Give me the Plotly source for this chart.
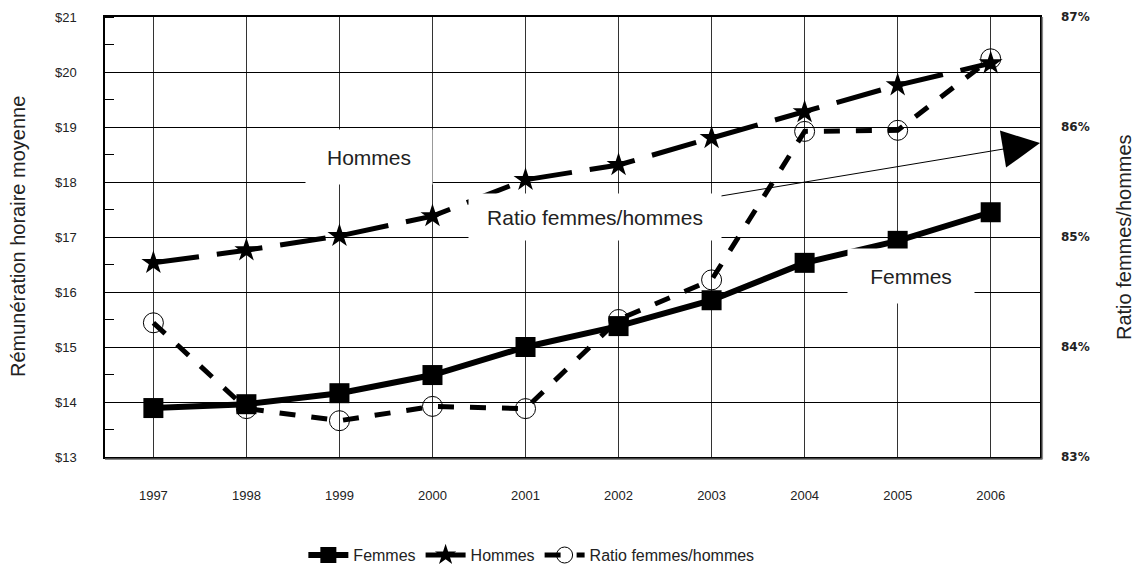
import plotly.graph_objects as go

years = [1997, 1998, 1999, 2000, 2001, 2002, 2003, 2004, 2005, 2006]
femmes = [13.89, 13.96, 14.16, 14.49, 15.00, 15.38, 15.85, 16.53, 16.93, 17.45]
hommes = [16.53, 16.76, 17.02, 17.38, 18.04, 18.31, 18.80, 19.27, 19.76, 20.16]
ratio = [84.22, 83.44, 83.33, 83.46, 83.44, 84.25, 84.61, 85.96, 85.97, 86.62]

left_ticks = [13, 14, 15, 16, 17, 18, 19, 20, 21]
right_ticks = [83, 84, 85, 86, 87]

FONT = "Liberation Sans, Arial, sans-serif"
TXT = "#222"

fig = go.Figure()
fig.add_trace(go.Scatter(
    x=years, y=femmes, name="Femmes", mode="lines+markers",
    line=dict(color="black", width=6),
    marker=dict(symbol="square", size=20, color="black"),
))
fig.add_trace(go.Scatter(
    x=years, y=hommes, name="Hommes", mode="lines+markers",
    line=dict(color="black", width=5, dash="46px,18px"),
    marker=dict(symbol="star", size=18, color="black"),
))
fig.add_trace(go.Scatter(
    x=years, y=ratio, name="Ratio femmes/hommes", mode="lines+markers", yaxis="y2",
    line=dict(color="black", width=5, dash="16px,16px"),
    marker=dict(symbol="circle", size=20, color="rgba(0,0,0,0)",
                line=dict(color="black", width=1)),
))

# figure is placed with the page's 8px body margin; plot area spans page x 105-1040, y 17-457
fig.update_layout(
    width=1129, height=560,
    margin=dict(l=97, r=97, t=9, b=111, autoexpand=False),
    paper_bgcolor="white", plot_bgcolor="white",
    font=dict(family=FONT, color=TXT),
    showlegend=True,
    legend=dict(orientation="h", x=0.456, xanchor="center", y=-0.223, yanchor="middle",
                font=dict(family=FONT, size=16, color=TXT), itemwidth=40,
                bgcolor="rgba(0,0,0,0)"),
    xaxis=dict(
        range=[1996.48, 2006.53], tickvals=years, ticktext=[str(y) for y in years],
        showgrid=True, gridcolor="#333", gridwidth=1, zeroline=False,
        showline=True, linecolor="black", linewidth=1.5, mirror=True,
        ticks="", ticklabelstandoff=26,
        tickfont=dict(family=FONT, size=13, color=TXT),
    ),
    yaxis=dict(
        range=[13, 21], tickvals=left_ticks, ticktext=["$" + str(v) for v in left_ticks],
        showgrid=True, gridcolor="black", gridwidth=1, zeroline=False,
        showline=True, linecolor="black", linewidth=1.5, mirror=True,
        ticks="", ticklabelstandoff=24,
        tickfont=dict(family=FONT, size=13, color=TXT),
        minor=dict(ticks="inside", ticklen=9, tickcolor="black", dtick=0.5, showgrid=False),
    ),
    yaxis2=dict(
        range=[83, 87], tickvals=right_ticks, ticktext=[str(v) + "%" for v in right_ticks],
        overlaying="y", side="right", showgrid=False, zeroline=False,
        ticks="", ticklabelstandoff=20,
        tickfont=dict(family="DejaVu Sans", size=12, color=TXT, weight="bold"),
    ),
)

# secondary frame (shadow) at right and bottom
fig.add_shape(type="line", xref="paper", yref="paper", x0=1.0025, x1=1.0025, y0=-0.005, y1=1,
              line=dict(color="#888", width=1.5))
fig.add_shape(type="line", xref="paper", yref="paper", x0=0, x1=1.0025, y0=-0.005, y1=-0.005,
              line=dict(color="#888", width=1.5))

# axis titles
fig.add_annotation(text="Rémunération horaire moyenne", xref="paper", yref="paper",
                   x=0, y=0.5, xanchor="center", xshift=-87, textangle=-90, showarrow=False,
                   font=dict(family=FONT, size=20, color=TXT))
fig.add_annotation(text="Ratio femmes/hommes", xref="paper", yref="paper",
                   x=1, y=0.5, xanchor="center", xshift=84, textangle=-90, showarrow=False,
                   font=dict(family=FONT, size=20, color=TXT))

# series labels in white boxes
fig.add_annotation(text="Hommes", x=1999.32, y=18.45, showarrow=False,
                   bgcolor="white", width=106, height=34, borderpad=10,
                   font=dict(family=FONT, size=21, color=TXT))
fig.add_annotation(text="Femmes", x=2005.14, y=16.29, showarrow=False,
                   bgcolor="white", width=106, height=34, borderpad=10,
                   font=dict(family=FONT, size=21, color=TXT))
fig.add_annotation(text="Ratio femmes/hommes", xref="paper", x=1, y=18.71,
                   ax=-445, ay=74, showarrow=True,
                   arrowhead=2, arrowsize=7.5, arrowwidth=1, arrowcolor="black",
                   bgcolor="white", width=234, height=28, borderpad=9,
                   font=dict(family=FONT, size=21, color=TXT))

fig.write_html("out.html")
